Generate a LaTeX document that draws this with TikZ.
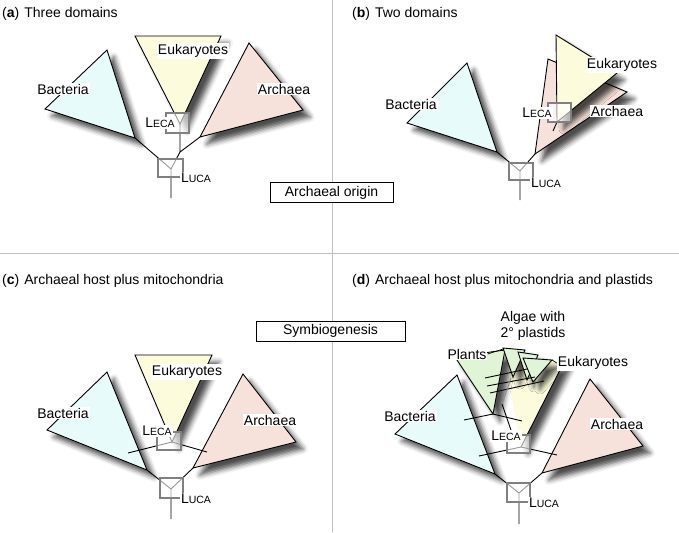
\documentclass[tikz,border=0pt]{standalone}
\usepackage{fontspec}
\setmainfont{Liberation Sans}
\usetikzlibrary{shadows.blur}
\definecolor{bacfill}{RGB}{232,251,251}
\definecolor{eukfill}{RGB}{252,252,220}
\definecolor{arcfill}{RGB}{246,226,218}
\definecolor{plafill}{RGB}{224,244,214}
\definecolor{boxgray}{RGB}{128,128,128}
\newcommand\leca{L{\fontsize{10.5}{12}\selectfont ECA}}
\newcommand\luca{L{\fontsize{10.5}{12}\selectfont UCA}}

\begin{document}
\begin{tikzpicture}[x=1pt,y=-1pt,
  every node/.style={font=\fontsize{14}{16}\selectfont},
  lbl/.style={fill=white,inner sep=1pt},
  title/.style={anchor=west,inner sep=0pt},
  shade/.style={blur shadow={shadow xshift=7pt,shadow yshift=-7pt,shadow blur radius=5pt,shadow opacity=70}},
  clade/.style={shade,draw,line width=0.9pt},
  branch/.style={line width=0.9pt},
  faint/.style={line width=0.9pt,draw=black!45},
  ancbox/.style={draw=boxgray,line width=1.1pt,fill=white,fill opacity=0.6,inner sep=0pt},
  divider/.style={draw=black!25,line width=0.8pt},
  framed/.style={draw,line width=0.9pt,fill=white,minimum height=20pt}]
\useasboundingbox (0,0) rectangle (679,532);
\draw[divider] (332,0) -- (332,532);
\draw[divider] (0,253) -- (679,253);

% (a)
\node[title] (titleA) at (2,14) {(\textbf{a})\hspace{5pt}Three domains};
\coordinate (bacbaseA) at (135,138);
\coordinate (arcbaseA) at (200,137);
\coordinate (eukbaseA) at (180,124);
\coordinate (splitA) at (180,152);
\coordinate (rootA) at (171,169);
\coordinate (stemA) at (171,198);
\filldraw[clade,fill=bacfill] (107,50) -- (45,109) -- (bacbaseA) -- cycle;
\filldraw[clade,fill=arcfill] (249,43) -- (303,110) -- (arcbaseA) -- cycle;
\filldraw[clade,fill=eukfill] (135,36) -- (221,36) -- (eukbaseA) -- cycle;
\draw[branch] (bacbaseA) -- (rootA) -- (splitA) -- (arcbaseA) (splitA) -- (eukbaseA) (rootA) -- (stemA);
\node[ancbox,minimum width=23pt,minimum height=20pt] (lecaboxA) at (177.5,123) {};
\node[ancbox,minimum width=25pt,minimum height=18pt] (lucaboxA) at (170.5,168) {};
\node[lbl] (bacteriaA) at (63,89) {Bacteria};
\node[lbl] (eukaryotesA) at (193,51) {Eukaryotes};
\node[lbl] (archaeaA) at (284,89) {Archaea};
\node[lbl] (lecaA) at (160,123) {\leca};
\node[lbl] (lucaA) at (196,178) {\luca};
\node[framed,minimum width=123pt] (archorigin) at (331.5,192.5) {Archaeal origin};

% (b)
\node[title] (titleB) at (352,14) {(\textbf{b})\hspace{5pt}Two domains};
\coordinate (bacbaseB) at (497,152);
\coordinate (arcbaseB) at (535,154);
\coordinate (eukbaseB) at (557,122);
\coordinate (eukstemB) at (553,131);
\coordinate (rootB) at (520,171);
\coordinate (stemB) at (520,200);
\filldraw[clade,fill=bacfill] (467,63) -- (407,123) -- (bacbaseB) -- cycle;
\filldraw[clade,fill=arcfill] (548,59) -- (627,92) -- (arcbaseB) -- cycle;
\filldraw[clade,fill=eukfill] (556,35) -- (617,73) -- (eukbaseB) -- cycle;
\draw[branch] (bacbaseB) -- (rootB) -- (arcbaseB) (rootB) -- (stemB) (eukbaseB) -- (eukstemB);
\node[ancbox,minimum width=23pt,minimum height=19pt] (lecaboxB) at (559.5,112.5) {};
\node[ancbox,minimum width=24pt,minimum height=17pt] (lucaboxB) at (521,171.5) {};
\node[lbl] (bacteriaB) at (411,104) {Bacteria};
\node[lbl] (eukaryotesB) at (622,65) {Eukaryotes};
\node[lbl] (archaeaB) at (617,111) {Archaea};
\node[lbl] (lecaB) at (537,113) {\leca};
\node[lbl] (lucaB) at (546,183) {\luca};

% (c)
\node[title] (titleC) at (2,281) {(\textbf{c})\hspace{5pt}Archaeal host plus mitochondria};
\coordinate (bacbaseC) at (147,470);
\coordinate (arcbaseC) at (193,468);
\coordinate (eukbaseC) at (172,442);
\coordinate (rootC) at (171,489);
\coordinate (stemC) at (171,519);
\coordinate (mitoinC) at (128,453);
\coordinate (mitooutC) at (207,452);
\filldraw[clade,fill=bacfill] (107,372) -- (47,430) -- (bacbaseC) -- cycle;
\filldraw[clade,fill=arcfill] (243,374) -- (296,442) -- (arcbaseC) -- cycle;
\filldraw[clade,fill=eukfill] (135,355) -- (212,355) -- (eukbaseC) -- cycle;
\draw[branch] (bacbaseC) -- (rootC) -- (arcbaseC) (rootC) -- (stemC);
\draw[branch] (mitoinC) -- (eukbaseC) -- (mitooutC);
\node[ancbox,minimum width=24pt,minimum height=18pt] (lecaboxC) at (169,441) {};
\node[ancbox,minimum width=23pt,minimum height=20pt] (lucaboxC) at (171.5,488) {};
\node[lbl] (bacteriaC) at (63,413) {Bacteria};
\node[lbl] (eukaryotesC) at (187,372) {Eukaryotes};
\node[lbl] (archaeaC) at (270,420) {Archaea};
\node[lbl] (lecaC) at (157,431) {\leca};
\node[lbl] (lucaC) at (196,499) {\luca};
\node[framed,minimum width=149pt] (symbio) at (330.5,331) {Symbiogenesis};

% (d)
\node[title] (titleD) at (352,281) {(\textbf{d})\hspace{5pt}Archaeal host plus mitochondria and plastids};
\coordinate (bacbaseD) at (495,474);
\coordinate (arcbaseD) at (542,473);
\coordinate (eukbaseD) at (521,447);
\coordinate (rootD) at (519,493);
\coordinate (stemD) at (519,524);
\coordinate (plabaseD) at (493,414);
\coordinate (algforkD) at (502,404);
\coordinate (algtopD) at (511,378);
\filldraw[clade,fill=bacfill] (457,375) -- (395,434) -- (bacbaseD) -- cycle;
\filldraw[clade,fill=arcfill] (590,379) -- (643,446) -- (arcbaseD) -- cycle;
\fill[shade,fill=eukfill] (505,362) -- (564,362) -- (eukbaseD) -- cycle;
\draw[branch] (564,362) -- (eukbaseD);
\filldraw[clade,fill=plafill] (455,357) -- (505,350) -- (plabaseD) -- cycle;
\fill[shade,fill=plafill] (503,348) -- (525,350) -- (513,377) -- cycle
  (518,352) -- (538,355) -- (527,380) -- cycle
  (523,358) -- (552,360) -- (533,382) -- cycle;
\filldraw[branch,fill=plafill] (503,348) -- (525,350) -- (513,377) -- cycle;
\filldraw[branch,fill=plafill] (518,352) -- (538,355) -- (527,380) -- cycle;
\filldraw[branch,fill=plafill] (523,358) -- (552,360) -- (533,382) -- cycle;
\draw[branch] (485,378) -- (527,369) (487,386) -- (535,377) (490,393) -- (544,381);
\draw[branch] (464,420) -- (plabaseD) -- (522,421);
\draw[branch] (512,433) -- (algforkD);
\draw[faint] (algforkD) -- (algtopD);
\draw[branch] (479,456) -- (eukbaseD) -- (557,455);
\draw[branch] (bacbaseD) -- (rootD) -- (arcbaseD) (rootD) -- (stemD);
\node[ancbox,minimum width=23pt,minimum height=18pt] (lecaboxD) at (518.5,444) {};
\node[ancbox,minimum width=23pt,minimum height=19pt] (lucaboxD) at (518.5,492.5) {};
\node[lbl] (bacteriaD) at (410,416) {Bacteria};
\node[lbl] (archaeaD) at (617,424) {Archaea};
\node[lbl] (plantsD) at (467,354) {Plants};
\node[lbl] (eukaryotesD) at (593,363) {Eukaryotes};
\node[lbl,align=center] (algaeD) at (533,326) {Algae with\\2° plastids};
\node[lbl] (lecaD) at (506,436) {\leca};
\node[lbl] (lucaD) at (544,503) {\luca};
\draw[line width=0.7pt] (plantsD.east) -- (503,349);
\draw[line width=0.7pt] (552,360) -- (eukaryotesD.west);
\end{tikzpicture}
\end{document}
